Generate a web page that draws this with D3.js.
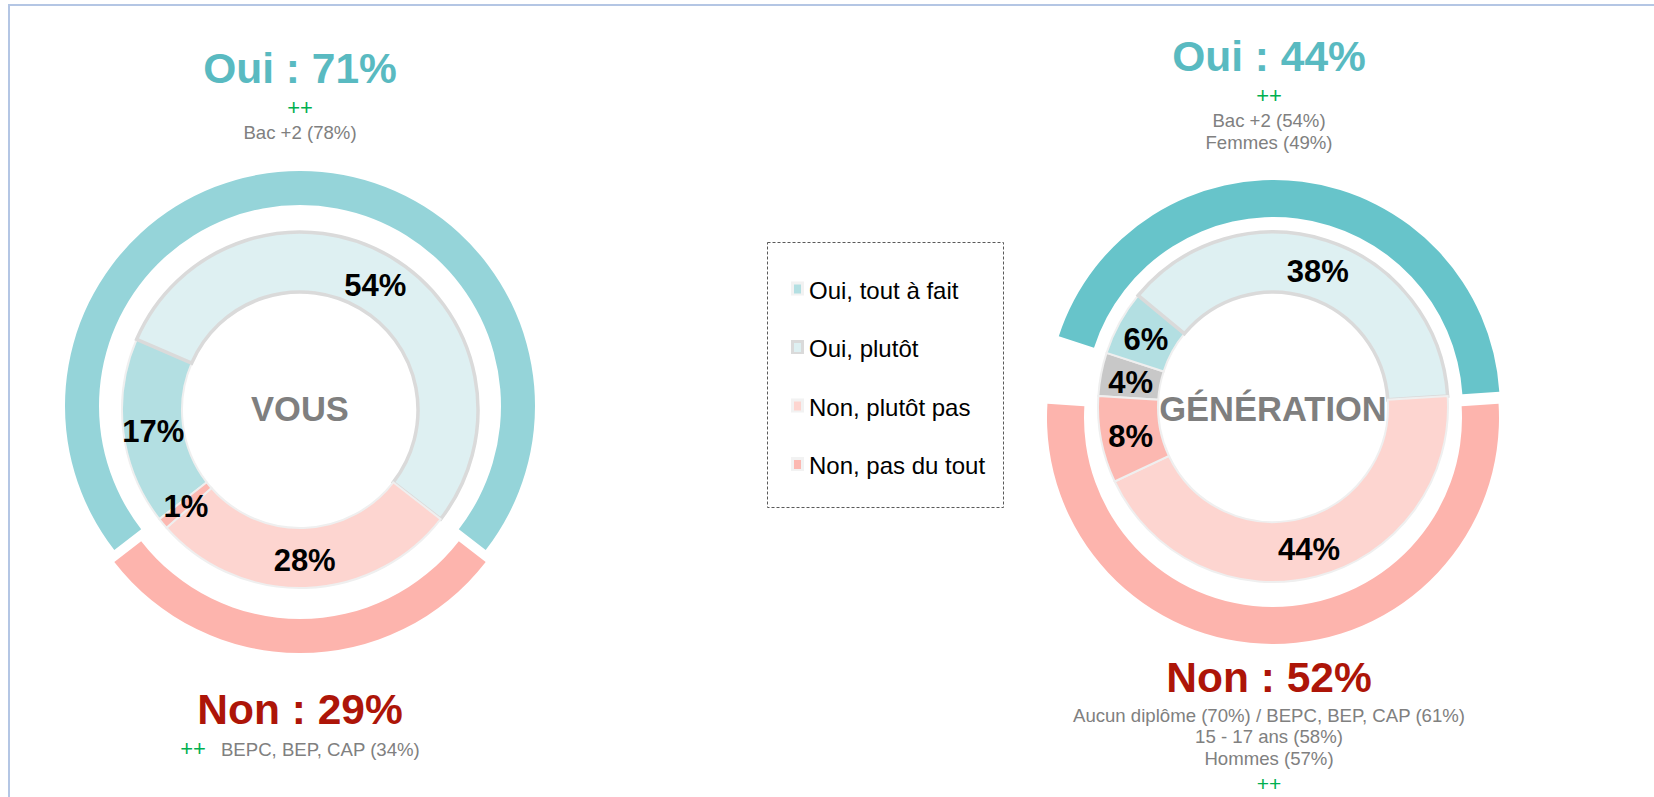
<!DOCTYPE html>
<html>
<head>
<meta charset="utf-8">
<script src="https://cdn.jsdelivr.net/npm/d3@7"></script>
<style>
  body { margin: 0; background: #fff; }
  svg { display: block; font-family: "Liberation Sans", Arial, Helvetica, sans-serif; }
</style>
</head>
<body>
<svg id="svg" width="1654" height="797"></svg>
<script>
// answers, in the order they run clockwise round the inner ring
const categories = ["Oui, tout à fait", "Oui, plutôt", "Non, plutôt pas", "Non, pas du tout"];
const groups = ["VOUS", "GÉNÉRATION"];

// inner ring (%) -- nsp is the grey "no answer" share
const vousValues = [17, 54, 28, 1];
const vousNsp = 0;
const generationValues = [6, 38, 44, 8];
const generationNsp = 4;

// outer ring totals: [oui, non]
const vousTotals = [71, 29];
const generationTotals = [44, 52];

// over-represented subgroups
const vousOuiNotes = ["Bac +2 (78%)"];
const vousNonNotes = ["BEPC, BEP, CAP (34%)"];
const generationOuiNotes = ["Bac +2 (54%)", "Femmes (49%)"];
const generationNonNotes = ["Aucun diplôme (70%) / BEPC, BEP, CAP (61%)", "15 - 17 ans (58%)", "Hommes (57%)"];

const colors = {
  inner: d3.scaleOrdinal().domain(["nsp"].concat(categories))
    .range(["#c8c8c8", "#b3dfe2", "#def0f2", "#fdd5d0", "#fcb8b1"]),
  stroke: d3.scaleOrdinal().domain(["nsp"].concat(categories))
    .range(["#efefef", "#efefef", "#dadada", "#efefef", "#efefef"]),
  non: "#fdb4ad",
  ouiTitle: "#59bac1",
  nonTitle: "#ad1508",
  note: "#808080",
  plus: "#00b050"
}

const svg = d3.select("body").select("svg#svg");

const g = {
  frame: svg.append("g").attr("id", "frame"),
  donuts: svg.append("g").attr("id", "donuts"),
  legend: svg.append("g").attr("id", "legend")
}

var translate = function(a, b) {
  return "translate(" + a + ", " + b + ")";
}

g.frame.append("rect")
  .attr("x", 9).attr("y", 5)
  .attr("width", 1800).attr("height", 1000)
  .attr("fill", "none")
  .attr("stroke", "#b4c6e4")
  .attr("stroke-width", 2);

var drawDonut = function(name, values, nsp, totals, ouiNotes, nonNotes, c) {
  let root = g.donuts.append("g").attr("class", "donut");
  let start = -(nsp + totals[0]) / 100 * Math.PI;

  let pie = d3.pie().sort(null).value(d => d.value)
    .startAngle(start).endAngle(start + 2 * Math.PI);

  // outer ring: oui / non, each pulled away from the centre a little
  let outerData = pie([
    {key: "nsp", value: nsp},
    {key: "oui", value: totals[0]},
    {key: "non", value: totals[1]}
  ]).filter(d => d.data.key !== "nsp");

  let outerArc = d3.arc().innerRadius(c.o0).outerRadius(c.o1);

  root.append("g")
    .attr("transform", translate(c.cx, c.oy))
    .selectAll("path.outer")
    .data(outerData)
    .enter()
    .append("path")
    .attr("class", "outer")
    .attr("d", outerArc)
    .attr("fill", d => d.data.key === "oui" ? c.ouiRing : colors.non)
    .attr("transform", function(d) {
      let mid = (d.startAngle + d.endAngle) / 2;
      return translate(c.explode * Math.sin(mid), -c.explode * Math.cos(mid));
    });

  // inner ring: detail of the answers
  let innerData = pie([{key: "nsp", value: nsp}].concat(values.map(function(v, i) {
    return {key: categories[i], value: v};
  }))).filter(d => d.value > 0);

  let innerArc = d3.arc().innerRadius(c.r0).outerRadius(c.r1);
  let inner = root.append("g").attr("transform", translate(c.cx, c.iy));

  inner.selectAll("path.slice")
    .data(innerData)
    .enter()
    .append("path")
    .attr("class", "slice")
    .attr("d", innerArc)
    .attr("fill", d => colors.inner(d.data.key))
    .attr("stroke", d => colors.stroke(d.data.key))
    .attr("stroke-width", d => d.data.key === "Oui, plutôt" ? 3.5 : 2);

  inner.selectAll("text.value")
    .data(innerData)
    .enter()
    .append("text")
    .attr("class", "value")
    .attr("x", d => innerArc.centroid(d)[0])
    .attr("y", d => innerArc.centroid(d)[1])
    .attr("dy", "0.42em")
    .attr("text-anchor", "middle")
    .attr("font-size", 31)
    .attr("font-weight", "bold")
    .attr("fill", "#000")
    .text(d => d.value + "%");

  root.append("text")
    .attr("x", c.cx).attr("y", 421)
    .attr("text-anchor", "middle")
    .attr("font-size", 34.5)
    .attr("font-weight", "bold")
    .attr("fill", "#7f7f7f")
    .text(name);

  // oui headline and its notes
  root.append("text")
    .attr("x", c.tx).attr("y", c.ouiY)
    .attr("text-anchor", "middle")
    .attr("font-size", 42.5)
    .attr("font-weight", "bold")
    .attr("fill", colors.ouiTitle)
    .text("Oui : " + totals[0] + "%");

  root.append("text")
    .attr("x", c.tx).attr("y", c.ouiY + 31.5)
    .attr("text-anchor", "middle")
    .attr("font-size", 22)
    .attr("fill", colors.plus)
    .text("++");

  root.selectAll("text.ouinote")
    .data(ouiNotes)
    .enter()
    .append("text")
    .attr("class", "ouinote")
    .attr("x", c.tx)
    .attr("y", (d, i) => c.ouiY + 56 + i * 22)
    .attr("text-anchor", "middle")
    .attr("font-size", 18.6)
    .attr("fill", colors.note)
    .text(d => d);

  // non headline and its notes
  root.append("text")
    .attr("x", c.tx).attr("y", c.nonY)
    .attr("text-anchor", "middle")
    .attr("font-size", 42.5)
    .attr("font-weight", "bold")
    .attr("fill", colors.nonTitle)
    .text("Non : " + totals[1] + "%");

  if (c.plusInline) {
    let line = root.append("text")
      .attr("x", c.tx).attr("y", c.nonY + 32)
      .attr("text-anchor", "middle")
      .attr("font-size", 18.6);
    line.append("tspan")
      .attr("fill", colors.plus)
      .attr("font-size", 22)
      .text("++");
    line.append("tspan")
      .attr("dx", 15)
      .attr("fill", colors.note)
      .text(nonNotes.join(" "));
  } else {
    root.selectAll("text.nonnote")
      .data(nonNotes)
      .enter()
      .append("text")
      .attr("class", "nonnote")
      .attr("x", c.tx)
      .attr("y", (d, i) => c.nonY + 29.5 + i * 21.5)
      .attr("text-anchor", "middle")
      .attr("font-size", 18.6)
      .attr("fill", colors.note)
      .text(d => d);

    root.append("text")
      .attr("x", c.tx)
      .attr("y", c.nonY + 29.5 + nonNotes.length * 21.5 + 5)
      .attr("text-anchor", "middle")
      .attr("font-size", 21)
      .attr("fill", colors.plus)
      .text("++");
  }
}

drawDonut(groups[0], vousValues, vousNsp, vousTotals, vousOuiNotes, vousNonNotes, {
  cx: 300, oy: 412, iy: 410, r0: 118, r1: 178, o0: 201, o1: 235, explode: 6,
  ouiRing: "#95d4d9", tx: 300, ouiY: 83, nonY: 724, plusInline: true
});

drawDonut(groups[1], generationValues, generationNsp, generationTotals, generationOuiNotes, generationNonNotes, {
  cx: 1273, oy: 412, iy: 407, r0: 115, r1: 175, o0: 189, o1: 226, explode: 6,
  ouiRing: "#67c4ca", tx: 1269, ouiY: 71, nonY: 692, plusInline: false
});

var drawLegend = function() {
  g.legend.append("rect")
    .attr("x", 767.5).attr("y", 242.5)
    .attr("width", 236).attr("height", 265)
    .attr("fill", "#fff")
    .attr("stroke", "#595959")
    .attr("stroke-width", 1)
    .attr("stroke-dasharray", "3,2");

  let y = d3.scalePoint().domain(categories).range([288.5, 464]);

  let item = g.legend.selectAll("g.item")
    .data(categories)
    .enter()
    .append("g")
    .attr("class", "item")
    .attr("transform", d => translate(791, y(d)));

  item.append("rect")
    .attr("x", 0).attr("y", -7)
    .attr("width", 13).attr("height", 14)
    .attr("fill", d => d === "Oui, plutôt" ? "#dadada" : "#f2f2f2");

  item.append("rect")
    .attr("x", 3).attr("y", -4)
    .attr("width", 7).attr("height", 9)
    .attr("fill", d => colors.inner(d));

  item.append("text")
    .attr("x", 18).attr("y", 10)
    .attr("font-size", 24)
    .attr("fill", "#000")
    .text(d => d);
}

drawLegend();
</script>
</body>
</html>
